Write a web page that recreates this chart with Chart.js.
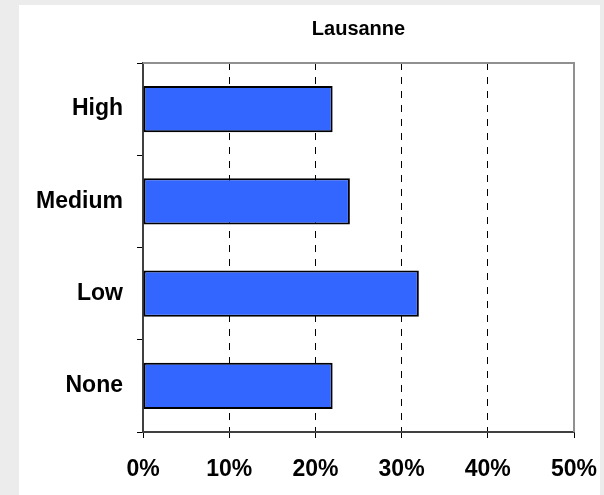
<!DOCTYPE html>
<html>
<head>
<meta charset="utf-8">
<script src="https://cdn.jsdelivr.net/npm/chart.js@4/dist/chart.umd.min.js"></script>
<style>
  html, body { margin: 0; padding: 0; background: #ececec; }
  #wrap { width: 604px; height: 495px; position: relative; }
</style>
</head>
<body>
<div id="wrap"><canvas id="c" width="604" height="495"></canvas></div>
<script>
const categories = ['High', 'Medium', 'Low', 'None'];
const shareValues = [22, 24, 32, 22];
const xTickLabels = ['0%', '10%', '20%', '30%', '40%', '50%'];
const chartTitle = 'Lausanne';

const FONT = "'Liberation Sans', Arial, sans-serif";

const panelPlugin = {
  id: 'panel',
  beforeDraw(chart) {
    const ctx = chart.ctx;
    ctx.save();
    ctx.fillStyle = '#ececec';
    ctx.fillRect(0, 0, chart.width, chart.height);
    ctx.fillStyle = '#ffffff';
    ctx.fillRect(19, 5, chart.width - 23, chart.height - 5);
    ctx.restore();
  },
  beforeDatasetsDraw(chart) {
    const a = chart.chartArea;
    const ctx = chart.ctx;
    ctx.save();
    ctx.strokeStyle = '#909090';
    ctx.lineWidth = 2;
    ctx.beginPath();
    ctx.moveTo(a.left, a.top);
    ctx.lineTo(a.right, a.top);
    ctx.lineTo(a.right, a.bottom);
    ctx.stroke();
    ctx.restore();
  }
};

new Chart(document.getElementById('c'), {
  type: 'bar',
  data: {
    labels: categories,
    datasets: [{
      data: shareValues,
      backgroundColor: '#3366ff',
      borderColor: '#000000',
      borderWidth: 2,
      borderSkipped: false,
      barPercentage: 0.5,
      categoryPercentage: 1.0
    }]
  },
  options: {
    indexAxis: 'y',
    responsive: false,
    animation: false,
    devicePixelRatio: 1,
    layout: { padding: { left: 0, right: 30, top: 0, bottom: 0 } },
    plugins: {
      legend: { display: false },
      tooltip: { enabled: false },
      title: {
        display: true,
        text: chartTitle,
        fullSize: false,
        color: '#000',
        font: { family: FONT, size: 20, weight: 'bold' },
        padding: { top: 17, bottom: 22 }
      }
    },
    scales: {
      x: {
        type: 'linear',
        min: 0,
        max: 50,
        afterFit(scale) {
          scale.height = 63;
          scale.paddingLeft = 0;
          scale.paddingRight = 0;
        },
        ticks: {
          stepSize: 10,
          color: '#000',
          padding: 18,
          maxRotation: 0,
          font: { family: FONT, size: 23, weight: 'bold' },
          callback: (v, i) => xTickLabels[i]
        },
        grid: {
          color: (c) => (c.index === 0 || c.index === 5) ? 'rgba(0,0,0,0)' : '#000',
          lineWidth: 1,
          tickLength: 6,
          tickColor: '#000',
          tickWidth: 1
        },
        border: { display: true, color: '#404040', width: 2, dash: [7, 7] }
      },
      y: {
        afterFit(scale) { scale.width = 143; },
        ticks: {
          color: '#000',
          padding: 14,
          font: { family: FONT, size: 23, weight: 'bold' }
        },
        grid: {
          drawOnChartArea: false,
          offset: true,
          tickLength: 6,
          tickColor: '#000',
          tickWidth: 1
        },
        border: { display: true, color: '#404040', width: 2 }
      }
    }
  },
  plugins: [panelPlugin]
});
</script>
</body>
</html>
